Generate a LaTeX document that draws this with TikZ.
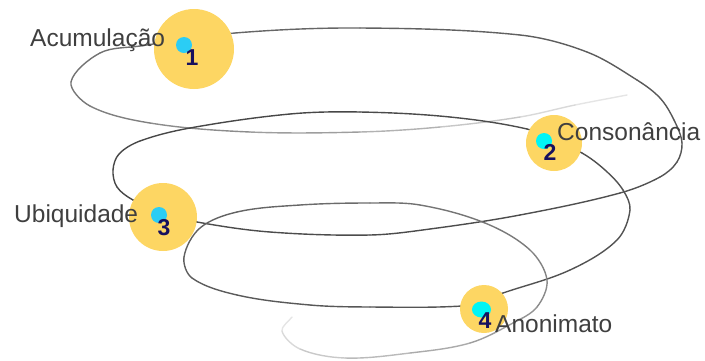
\documentclass[tikz,border=0pt]{standalone}
\usepackage{fontspec}
\setmainfont{Liberation Sans}
\usetikzlibrary{calc}
\definecolor{bubble}{HTML}{FDD663}
\definecolor{dotA}{HTML}{2BCDF5}
\definecolor{dotB}{HTML}{00F5F5}
\definecolor{numc}{HTML}{17105E}
\definecolor{labc}{HTML}{3F3F3F}
\tikzset{
  spiral/.style={line width=1.4pt, line cap=round},
  bubblefill/.style={fill=bubble, draw=none},
  numtext/.style={anchor=base, inner sep=0pt, text=numc, font=\fontsize{23}{23}\selectfont\bfseries},
  labtext/.style={anchor=base west, inner sep=0pt, text=labc, font=\fontsize{24.5}{24.5}\selectfont},
}
\begin{document}
\begin{tikzpicture}[x=1pt,y=-1pt]
\useasboundingbox (0,0) rectangle (705,360);

% points along the spiral, from the upper end to the lower end
\foreach \n/\px/\py in {
  1/627/95, 2/575/105, 3/520/117, 4/440/127, 5/360/132, 6/250/132,
  7/150/123, 8/90/106, 9/71/82, 10/100/53,
  11/140/46, 12/235/33, 13/360/28, 14/520/35, 15/587/52, 16/637/80,
  17/660/98, 18/674/120, 19/682/143, 20/677/162, 21/660/177, 22/620/193,
  23/520/215, 24/430/229, 25/370/235, 26/270/232, 27/197/222, 28/163/213,
  29/133/200, 30/117/187, 31/113/170, 32/119/154, 33/140/141, 34/190/128,
  35/290/114, 36/360/112, 37/450/117, 38/527/129, 39/554/141, 40/582/153,
  41/605/170, 42/623/190, 43/630/210, 44/617/240, 45/570/270, 46/503/293,
  47/483/300, 48/462/306, 49/370/307, 50/310/305, 51/237/295, 52/192/278,
  53/184/257, 54/200/228, 55/237/212, 56/300/205, 57/370/203, 58/420/205,
  59/485/223, 60/530/250, 61/547/280, 62/537/307, 63/513/323, 64/470/343,
  65/410/353, 66/345/358, 67/300/349, 68/282/331, 69/292/317}
  \coordinate (p\n) at (\px,\py);
\coordinate (p0) at (p1);
\coordinate (p70) at (p69);

% spiral drawn piece by piece through the points (tangents scaled by the
% chord lengths) so that its shade can change along the way
\foreach \i/\g in {
  1/10, 2/15, 3/22, 4/30, 5/38, 6/45, 7/50, 8/53, 9/55, 10/56,
  11/57, 12/60, 13/62, 14/63, 15/64, 16/65, 17/66, 18/66, 19/67, 20/67,
  21/68, 22/69, 23/70, 24/70, 25/70, 26/70, 27/70, 28/71, 29/72, 30/72,
  31/72, 32/72, 33/72, 34/72, 35/72, 36/71, 37/70, 38/70, 39/70, 40/69,
  41/68, 42/68, 43/68, 44/68, 45/68, 46/68, 47/68, 48/67, 49/66, 50/65,
  51/64, 52/63, 53/62, 54/61, 55/60, 56/58, 57/56, 58/54, 59/52, 60/49,
  61/46, 62/42, 63/38, 64/33, 65/27, 66/21, 67/15, 68/10}{
  \pgfmathtruncatemacro\h{\i-1}
  \pgfmathtruncatemacro\j{\i+1}
  \pgfmathtruncatemacro\k{\i+2}
  \draw[spiral, black!\g]
    let \p1=(p\h), \p2=(p\i), \p3=(p\j), \p4=(p\k),
        \n1={veclen(\x2-\x1,\y2-\y1)},
        \n2={veclen(\x3-\x2,\y3-\y2)},
        \n3={veclen(\x4-\x3,\y4-\y3)},
        \n4={\n2/(\n1+\n2)/3},
        \n5={\n2/(\n2+\n3)/3} in
    (p\i) .. controls ($(p\i)+\n4*(p\j)-\n4*(p\h)$)
          and ($(p\j)-\n5*(p\k)+\n5*(p\i)$) .. (p\j);
}

% stations
\fill[bubblefill] (194,49) circle (40);
\fill[bubblefill] (554,143) circle (28);
\fill[bubblefill] (163,217) circle (34);
\fill[bubblefill] (484,309) circle (24);

\fill[dotA] (184,45) circle (8);
\fill[dotB] (544,141) circle (8);
\fill[dotA] (159,215) circle (8);
\fill[dotB] (481.5,309.5) ellipse (9.5 and 8);

\node[numtext] (n1) at (192,65) {1};
\node[numtext] (n2) at (550,160) {2};
\node[numtext] (n3) at (164,235) {3};
\node[numtext] (n4) at (485,328) {4};

\node[labtext] (l1) at (30,46) {Acumulação};
\node[labtext] (l2) at (557,140) {Consonância};
\node[labtext] (l3) at (14,222) {Ubiquidade};
\node[labtext] (l4) at (495,332) {Anonimato};
\end{tikzpicture}
\end{document}
